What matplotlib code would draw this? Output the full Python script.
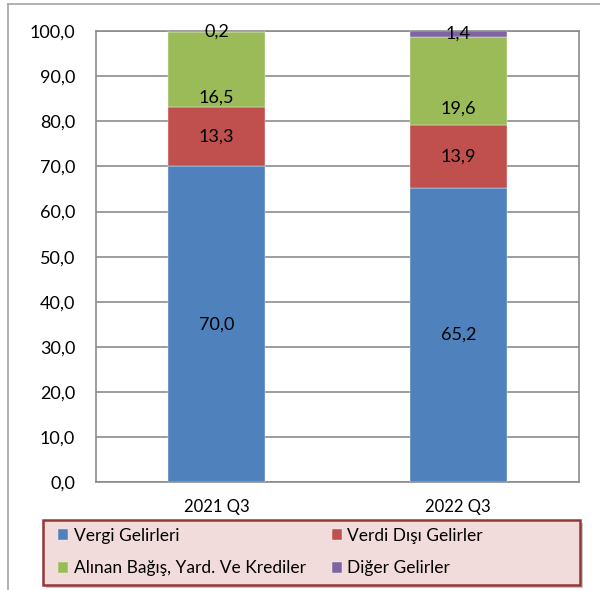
import matplotlib.pyplot as plt
from matplotlib.lines import Line2D
from matplotlib.patches import Rectangle
import numpy as np

plt.rcParams['font.family'] = ['Lato', 'DejaVu Sans']

# ── Data ────────────────────────────────────────────────────────────────────
periods = ['2021 Q3', '2022 Q3']
series = ['Vergi Gelirleri', 'Verdi Dışı Gelirler',
          'Alınan Bağış, Yard. Ve Krediler', 'Diğer Gelirler']
vergi = [70.0, 65.2]
verdi_disi = [13.3, 13.9]
bagis = [16.5, 19.6]
diger = [0.2, 1.4]

colors = ['#4F81BD', '#C0504D', '#9BBB59', '#8064A2']
# vertical label nudge (points) per series, as in the source chart
label_nudge = [0, 0, -20, 0]

W, H = 600, 590
fig = plt.figure(figsize=(W / 100, H / 100), dpi=100)
ax = fig.add_axes([0.16, 0.183, 0.805, 0.764])

x = np.arange(len(periods))
bottom = np.zeros(len(periods))
handles = []
for name, vals, col, dy in zip(series, [vergi, verdi_disi, bagis, diger],
                               colors, label_nudge):
    vals = np.array(vals)
    h = ax.bar(x, vals, 0.4, bottom=bottom, color=col, label=name,
               edgecolor='#F0F0F0', linewidth=0.3, zorder=3)
    handles.append(h)
    for xi, b, v in zip(x, bottom, vals):
        ax.annotate(f'{v:.1f}'.replace('.', ','), (xi, b + v / 2),
                    xytext=(0, dy), textcoords='offset points',
                    ha='center', va='center', fontsize=13, color='black',
                    zorder=4)
    bottom += vals

ax.set_xlim(-0.5, 1.5)
ax.set_ylim(0, 100)
ax.set_yticks(np.arange(0, 101, 10))
ax.set_yticklabels([f'{v:.1f}'.replace('.', ',') for v in np.arange(0, 101, 10)],
                   fontsize=13)
ax.set_xticks(x)
ax.set_xticklabels(periods, fontsize=12)
ax.tick_params(axis='y', length=0, pad=15)
ax.tick_params(axis='x', length=0, pad=12)
ax.grid(axis='y', color='#8C8C8C', lw=1.2, zorder=0)
ax.set_axisbelow(True)
for sp in ax.spines.values():
    sp.set_color('#8C8C8C')
    sp.set_linewidth(1.2)

# outer chart frame (partially visible)
fig.add_artist(Line2D([8 / W, 8 / W], [0, 1 - 4 / H],
                      transform=fig.transFigure, color='#A6A6A6', lw=1.2))
fig.add_artist(Line2D([8 / W, 1], [1 - 4 / H, 1 - 4 / H],
                      transform=fig.transFigure, color='#A6A6A6', lw=1.2))

# legend box with drop shadow
bx0, by0, bx1, by1 = 43, 520, 580, 585
fig.add_artist(Rectangle(((bx0 + 3) / W, 1 - (by1 + 3) / H),
                         (bx1 - bx0) / W, (by1 - by0) / H,
                         transform=fig.transFigure, facecolor='#C8C8C8',
                         edgecolor='none', zorder=1))
fig.add_artist(Rectangle((bx0 / W, 1 - by1 / H),
                         (bx1 - bx0) / W, (by1 - by0) / H,
                         transform=fig.transFigure, facecolor='#F2DCDB',
                         edgecolor='#953735', lw=1.8, zorder=2))

# row order: Vergi, Verdi Dışı / Alınan, Diğer
order = [0, 2, 1, 3]
leg = fig.legend([handles[i] for i in order], [series[i] for i in order],
                 loc='upper left', ncol=2,
                 bbox_to_anchor=(58 / W, 1 - 528 / H),
                 fontsize=12.5, frameon=False, borderaxespad=0, borderpad=0,
                 handlelength=0.6, handleheight=0.6, handletextpad=0.3,
                 labelspacing=0.95, columnspacing=1.5)
leg.set_zorder(3)

fig.savefig('out.png', dpi=100)
